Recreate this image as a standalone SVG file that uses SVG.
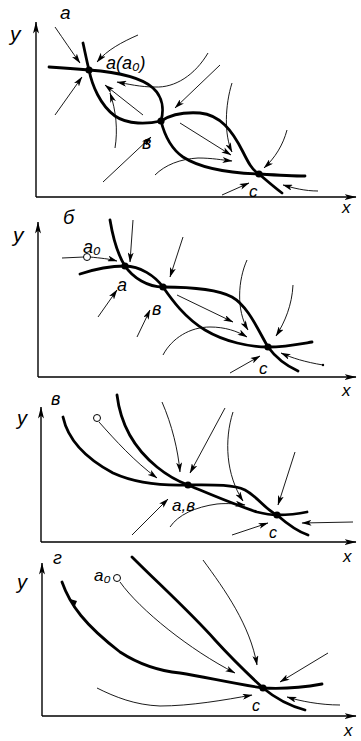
<svg xmlns="http://www.w3.org/2000/svg" width="361" height="741" viewBox="0 0 361 741">
<style>
.ax{fill:none;stroke:#000;stroke-width:1.4}
.sep{fill:none;stroke:#000;stroke-width:2.8;stroke-linecap:round}
.tr{fill:none;stroke:#000;stroke-width:0.9}
.dot{fill:#000}
.open{fill:#fff;stroke:#000;stroke-width:1}
.lb{font-family:"Liberation Sans","DejaVu Sans",sans-serif;font-style:italic;fill:#000}
</style>
<defs>
<marker id="ah" viewBox="0 0 10 6" refX="9.5" refY="3" markerWidth="10" markerHeight="6" markerUnits="userSpaceOnUse" orient="auto"><path d="M0,0 L10,3 L0,6 L2.5,3z" fill="#000"/></marker>
<marker id="axh" viewBox="0 0 12 6" refX="11.5" refY="3" markerWidth="12" markerHeight="6" markerUnits="userSpaceOnUse" orient="auto"><path d="M0,0 L12,3 L0,6 L3,3z" fill="#000"/></marker>
</defs>

<!-- Panel а -->
<g id="panel-a">
<text class="lb" x="60" y="19" font-size="19">а</text>
<g id="axes-a">
<path class="ax" d="M36,197 L36,22" marker-end="url(#axh)"/>
<path class="ax" d="M36,197 L356,197" marker-end="url(#axh)"/>
<text class="lb" x="10" y="41" font-size="21">y</text>
<text class="lb" x="342" y="213" font-size="17">x</text>
</g>
<g id="connectors-a">
<path class="sep" d="M49,67 C65,68 78,69 89,70 C115,72 140,76 153,88 C163,97 164,110 161,121 C164,133 170,148 183,157 C200,168 230,173 259,174 C275,175 292,176 305,176"/>
<path class="sep" d="M83,43 C85,52 87,62 89,70 C92,85 100,105 115,116 C128,125 148,124 161,121 C170,115 185,112 200,113 C220,115 232,130 243,152 C248,162 252,170 259,174 C266,180 274,187 282,193"/>
<path class="tr" d="M55,27 C64,40 72,52 80,63" marker-end="url(#ah)"/>
<path class="tr" d="M138,35 C122,42 107,50 97,62" marker-end="url(#ah)"/>
<path class="tr" d="M55,115 L82,77" marker-end="url(#ah)"/>
<path class="tr" d="M208,53 C195,75 175,88 155,87 C140,87 128,84 117,82" marker-end="url(#ah)"/>
<path class="tr" d="M143,115 L105,85" marker-end="url(#ah)"/>
<path class="tr" d="M115,148 C118,130 116,110 110,93" marker-end="url(#ah)"/>
<path class="tr" d="M220,65 L175,108" marker-end="url(#ah)"/>
<path class="tr" d="M103,182 L151,137" marker-end="url(#ah)"/>
<path class="tr" d="M180,123 L231,155" marker-end="url(#ah)"/>
<path class="tr" d="M232,83 C225,105 224,135 232,152" marker-end="url(#ah)"/>
<path class="tr" d="M155,175 C165,165 180,159 198,158 C212,158 222,160 232,161" marker-end="url(#ah)"/>
<path class="tr" d="M287,130 C283,145 275,158 264,168" marker-end="url(#ah)"/>
<path class="tr" d="M222,195 L249,183" marker-end="url(#ah)"/>
<path class="tr" d="M318,191 C305,191 293,188 283,185" marker-end="url(#ah)"/>
</g>
<g id="node-a1"><circle class="dot" cx="89" cy="70" r="3.6"/><text class="lb" x="106" y="69" font-size="18">а(а₀)</text></g>
<g id="node-b1"><circle class="dot" cx="161" cy="121" r="3.6"/><text class="lb" x="142" y="149" font-size="18">в</text></g>
<g id="node-c1"><circle class="dot" cx="259" cy="174" r="3.6"/><text class="lb" x="249" y="197" font-size="17">с</text></g>
</g>

<!-- Panel б -->
<g id="panel-b">
<text class="lb" x="63" y="224" font-size="20">б</text>
<g id="axes-b">
<path class="ax" d="M38,377 L38,222" marker-end="url(#axh)"/>
<path class="ax" d="M38,377 L356,377" marker-end="url(#axh)"/>
<text class="lb" x="13" y="242" font-size="21">y</text>
<text class="lb" x="342" y="396" font-size="17">x</text>
</g>
<g id="connectors-b">
<path class="sep" d="M80,274 C95,269 110,266 125,266 C140,266 155,276 163,287 C172,300 185,318 205,330 C225,342 250,347 268,347 C285,347 300,344 312,342"/>
<path class="sep" d="M110,220 C113,238 118,255 125,266 C133,278 148,287 163,287 C185,287 215,288 232,297 C248,306 258,330 268,347 C276,358 287,366 298,371"/>
<path class="tr" d="M62,258 L84,257"/>
<path class="tr" d="M90,257 C100,258 110,259 117,261" marker-end="url(#ah)"/>
<path class="tr" d="M133,220 L130,262" marker-end="url(#ah)"/>
<path class="tr" d="M98,317 L117,290" marker-end="url(#ah)"/>
<path class="tr" d="M137,337 L150,310" marker-end="url(#ah)"/>
<path class="tr" d="M183,237 L170,277" marker-end="url(#ah)"/>
<path class="tr" d="M177,295 L233,322" marker-end="url(#ah)"/>
<path class="tr" d="M163,355 C172,338 190,327 210,327 C225,327 237,331 247,337" marker-end="url(#ah)"/>
<path class="tr" d="M247,260 C238,280 236,310 248,330" marker-end="url(#ah)"/>
<path class="tr" d="M293,285 C292,305 285,322 276,336" marker-end="url(#ah)"/>
<path class="tr" d="M230,373 L260,356" marker-end="url(#ah)"/>
<path class="tr" d="M323,365 C305,362 292,358 281,353" marker-end="url(#ah)"/>
<circle class="dot" cx="323" cy="365" r="1.2"/>
</g>
<g id="node-a0-b"><circle class="open" cx="87" cy="257" r="3.5"/><text class="lb" x="83" y="253" font-size="18">а₀</text></g>
<g id="node-a2"><circle class="dot" cx="125" cy="266" r="3.6"/><text class="lb" x="117" y="291" font-size="18">а</text></g>
<g id="node-b2"><circle class="dot" cx="163" cy="287" r="3.6"/><text class="lb" x="152" y="315" font-size="18">в</text></g>
<g id="node-c2"><circle class="dot" cx="268" cy="347" r="3.6"/><text class="lb" x="259" y="374" font-size="17">с</text></g>
</g>

<!-- Panel в -->
<g id="panel-c">
<text class="lb" x="51" y="405" font-size="18">в</text>
<g id="axes-c">
<path class="ax" d="M41,542 L41,407" marker-end="url(#axh)"/>
<path class="ax" d="M41,542 L356,542" marker-end="url(#axh)"/>
<text class="lb" x="17" y="425" font-size="20">y</text>
<text class="lb" x="343" y="562" font-size="17">x</text>
</g>
<g id="connectors-c">
<path class="sep" d="M63,417 C68,440 85,458 113,473 C135,483 160,486 188,485 C210,485 232,484 245,490 C258,497 266,510 277,515 C285,522 296,531 308,535"/>
<path class="sep" d="M117,395 C120,420 130,445 157,467 C168,476 180,482 188,485 C205,492 230,503 257,512 C265,514 271,515 277,515 C288,515 298,514 307,512"/>
<path class="tr" d="M99,422 C115,440 135,462 157,478" marker-end="url(#ah)"/>
<path class="tr" d="M162,402 C172,425 178,450 180,472" marker-end="url(#ah)"/>
<path class="tr" d="M225,408 L190,473" marker-end="url(#ah)"/>
<path class="tr" d="M233,412 C224,440 226,475 243,501" marker-end="url(#ah)"/>
<path class="tr" d="M295,452 L278,505" marker-end="url(#ah)"/>
<path class="tr" d="M132,535 L168,499" marker-end="url(#ah)"/>
<path class="tr" d="M170,527 C178,515 195,507 217,504 C228,503 238,504 245,505" marker-end="url(#ah)"/>
<path class="tr" d="M232,535 L268,523" marker-end="url(#ah)"/>
<path class="tr" d="M353,522 L302,523" marker-end="url(#ah)"/>
</g>
<g id="node-a0-c"><circle class="open" cx="97" cy="418" r="3.5"/></g>
<g id="node-ab3"><circle class="dot" cx="188" cy="485" r="3.6"/><text class="lb" x="172" y="511" font-size="17">а,в</text></g>
<g id="node-c3"><circle class="dot" cx="277" cy="515" r="3.6"/><text class="lb" x="269" y="538" font-size="16">с</text></g>
</g>

<!-- Panel г -->
<g id="panel-d">
<text class="lb" x="53" y="564" font-size="18">г</text>
<g id="axes-d">
<path class="ax" d="M42,716 L42,563" marker-end="url(#axh)"/>
<path class="ax" d="M42,716 L356,716" marker-end="url(#axh)"/>
<text class="lb" x="17" y="589" font-size="20">y</text>
<text class="lb" x="344" y="736" font-size="17">x</text>
</g>
<g id="connectors-d">
<path class="sep" d="M62,582 C70,605 85,625 120,652 C140,665 160,671 180,673 C205,677 235,684 263,688 C280,689 300,688 322,684"/>
<path class="sep" d="M132,557 C160,585 190,612 215,640 C235,662 250,676 263,688 C275,698 290,706 305,710"/>
<path d="M70,599 L74,608 L77,601z" fill="#000"/>
<path class="tr" d="M120,582 C140,610 190,650 235,673" marker-end="url(#ah)"/>
<path class="tr" d="M203,560 C225,590 250,625 257,665" marker-end="url(#ah)"/>
<path class="tr" d="M328,653 L280,682" marker-end="url(#ah)"/>
<path class="tr" d="M97,688 C115,697 135,705 160,706 C190,706 225,700 252,695" marker-end="url(#ah)"/>
<path class="tr" d="M340,705 C320,705 300,701 287,697" marker-end="url(#ah)"/>
</g>
<g id="node-a0-d"><circle class="open" cx="117" cy="578" r="3.5"/><text class="lb" x="94" y="581" font-size="17">а₀</text></g>
<g id="node-c4"><circle class="dot" cx="263" cy="688" r="3.6"/><text class="lb" x="252" y="711" font-size="16">с</text></g>
</g>
</svg>
